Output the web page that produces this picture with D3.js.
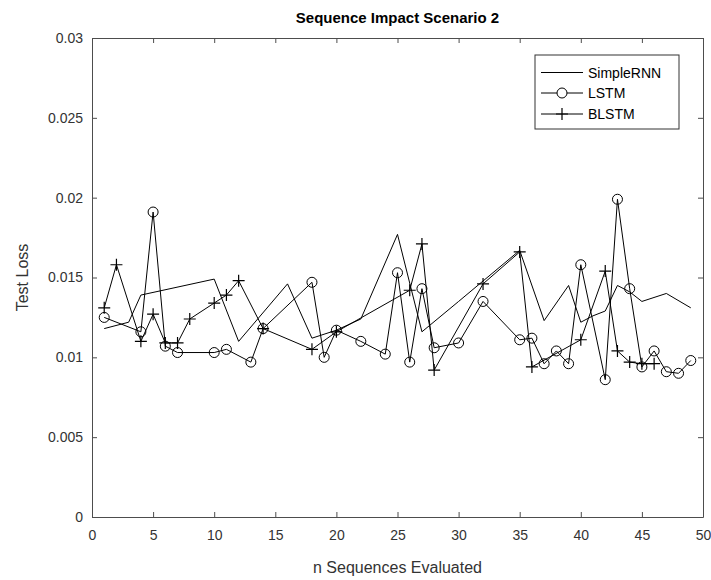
<!DOCTYPE html>
<html lang="en">
<head>
<meta charset="utf-8">
<title>Sequence Impact Scenario 2</title>
<script src="https://cdn.jsdelivr.net/npm/d3@7"></script>
<style>
  body { margin: 0; background: #fff; }
  text { font-family: "Liberation Sans", Arial, sans-serif; }
</style>
</head>
<body>
<script>
// values
var rnn_x = [1, 3, 4, 10, 12, 16, 18, 20, 22, 25, 27, 30, 35, 37, 39, 40, 41, 42, 43, 44, 45, 47, 49];
var rnn_y = [0.0118, 0.0122, 0.0139, 0.0149, 0.0110, 0.0146, 0.0112, 0.0117, 0.0124, 0.0177, 0.0116, 0.0135,
             0.0167, 0.0123, 0.0145, 0.0122, 0.0126, 0.0129, 0.0145, 0.0141, 0.0135, 0.0140, 0.0131];

var lstm_x = [1, 4, 5, 6, 7, 10, 11, 13, 14, 18, 19, 20, 22, 24, 25, 26, 27, 28, 30, 32, 35, 36, 37, 38, 39,
              40, 42, 43, 44, 45, 46, 47, 48, 49];
var lstm_y = [0.0125, 0.0116, 0.0191, 0.0107, 0.0103, 0.0103, 0.0105, 0.0097, 0.0118, 0.0147, 0.0100, 0.0117,
              0.0110, 0.0102, 0.0153, 0.0097, 0.0143, 0.0106, 0.0109, 0.0135, 0.0111, 0.0112, 0.0096, 0.0104,
              0.0096, 0.0158, 0.0086, 0.0199, 0.0143, 0.0094, 0.0104, 0.0091, 0.0090, 0.0098];

var blstm_x = [1, 2, 4, 5, 6, 7, 8, 10, 11, 12, 14, 18, 20, 26, 27, 28, 32, 35, 36, 40, 42, 43, 44, 45, 46];
var blstm_y = [0.0131, 0.0158, 0.0110, 0.0127, 0.0109, 0.0109, 0.0124, 0.0134, 0.0139, 0.0148, 0.0118, 0.0105,
               0.0116, 0.0142, 0.0171, 0.0092, 0.0146, 0.0166, 0.0094, 0.0111, 0.0154, 0.0104, 0.0097, 0.0096, 0.0096];

var x_ticks = [0, 5, 10, 15, 20, 25, 30, 35, 40, 45, 50];
var y_ticks = [0, 0.005, 0.01, 0.015, 0.02, 0.025, 0.03];
var series_names = ["SimpleRNN", "LSTM", "BLSTM"];

var width = 711, height = 580;
var plot_left = 92, plot_right = 703, plot_top = 38, plot_bottom = 517;
var axis_color = "#4d4d4d";

var svg = d3.select("body").append("svg")
    .attr("width", width)
    .attr("height", height);

var x = d3.scaleLinear().domain([0, 50]).range([plot_left, plot_right]);
var y = d3.scaleLinear().domain([0, 0.03]).range([plot_bottom, plot_top]);

function pairs(xs, ys) {
    return xs.map(function(d, i) { return [d, ys[i]]; });
}

// axes, ticks pointing inwards like matlab
var bottom_axis = d3.axisBottom(x).tickValues(x_ticks).tickSizeInner(-5).tickSizeOuter(0).tickPadding(13);
var top_axis = d3.axisTop(x).tickValues(x_ticks).tickSizeInner(-5).tickSizeOuter(0).tickFormat("");
var left_axis = d3.axisLeft(y).tickValues(y_ticks).tickSizeInner(-5).tickSizeOuter(0).tickPadding(9)
    .tickFormat(function(d) { return d === 0 ? "0" : String(+d.toFixed(3)); });
var right_axis = d3.axisRight(y).tickValues(y_ticks).tickSizeInner(-5).tickSizeOuter(0).tickFormat("");

var gb = svg.append("g").attr("transform", "translate(0," + plot_bottom + ")").call(bottom_axis);
var gt = svg.append("g").attr("transform", "translate(0," + plot_top + ")").call(top_axis);
var gl = svg.append("g").attr("transform", "translate(" + plot_left + ",0)").call(left_axis);
var gr = svg.append("g").attr("transform", "translate(" + plot_right + ",0)").call(right_axis);

[gb, gt, gl, gr].forEach(function(g) {
    g.select(".domain").attr("stroke", axis_color);
    g.selectAll(".tick line").attr("stroke", axis_color);
    g.selectAll(".tick text").attr("fill", "#333").style("font-size", "14px")
        .style("font-family", "'Liberation Sans', Arial, sans-serif");
});

var line = d3.line()
    .x(function(d) { return x(d[0]); })
    .y(function(d) { return y(d[1]); });

var rnn = pairs(rnn_x, rnn_y);
var lstm = pairs(lstm_x, lstm_y);
var blstm = pairs(blstm_x, blstm_y);

[rnn, lstm, blstm].forEach(function(s) {
    svg.append("path")
        .datum(s)
        .attr("d", line)
        .attr("fill", "none")
        .attr("stroke", "#000")
        .attr("stroke-width", 1);
});

// circle markers
svg.append("g").selectAll("circle")
    .data(lstm)
    .enter()
    .append("circle")
    .attr("cx", function(d) { return x(d[0]); })
    .attr("cy", function(d) { return y(d[1]); })
    .attr("r", 5)
    .attr("fill", "none")
    .attr("stroke", "#000");

// plus markers
var plus = d3.symbol().type({
    draw: function(ctx, s) { ctx.moveTo(-6, 0); ctx.lineTo(6, 0); ctx.moveTo(0, -6); ctx.lineTo(0, 6); }
});
svg.append("g").selectAll("path")
    .data(blstm)
    .enter()
    .append("path")
    .attr("transform", function(d) { return "translate(" + x(d[0]) + "," + y(d[1]) + ")"; })
    .attr("d", plus)
    .attr("fill", "none")
    .attr("stroke", "#000")
    .attr("stroke-width", 1.2);

// title and labels
svg.append("text")
    .attr("x", (plot_left + plot_right) / 2)
    .attr("y", 23)
    .attr("text-anchor", "middle")
    .style("font-size", "15px")
    .style("font-weight", "bold")
    .attr("fill", "#000")
    .text("Sequence Impact Scenario 2");

svg.append("text")
    .attr("x", (plot_left + plot_right) / 2)
    .attr("y", 573)
    .attr("text-anchor", "middle")
    .style("font-size", "16px")
    .attr("fill", "#333")
    .text("n Sequences Evaluated");

svg.append("text")
    .attr("transform", "translate(28," + (plot_top + plot_bottom) / 2 + ") rotate(-90)")
    .attr("text-anchor", "middle")
    .style("font-size", "16px")
    .attr("fill", "#333")
    .text("Test Loss");

// legend
var lg = svg.append("g");
lg.append("rect")
    .attr("x", 535).attr("y", 55)
    .attr("width", 144).attr("height", 74)
    .attr("fill", "#fff")
    .attr("stroke", "#333");

var rows = [72.5, 93, 114];
series_names.forEach(function(name, i) {
    lg.append("line")
        .attr("x1", 541).attr("x2", 583)
        .attr("y1", rows[i]).attr("y2", rows[i])
        .attr("stroke", "#000");
    lg.append("text")
        .attr("x", 588).attr("y", rows[i] + 5)
        .style("font-size", "14px")
        .attr("fill", "#000")
        .text(name);
});
lg.append("circle").attr("cx", 562).attr("cy", rows[1]).attr("r", 5)
    .attr("fill", "#fff").attr("stroke", "#000");
lg.append("path").attr("transform", "translate(562," + rows[2] + ")").attr("d", plus)
    .attr("stroke", "#000").attr("stroke-width", 1.2);
</script>
</body>
</html>
